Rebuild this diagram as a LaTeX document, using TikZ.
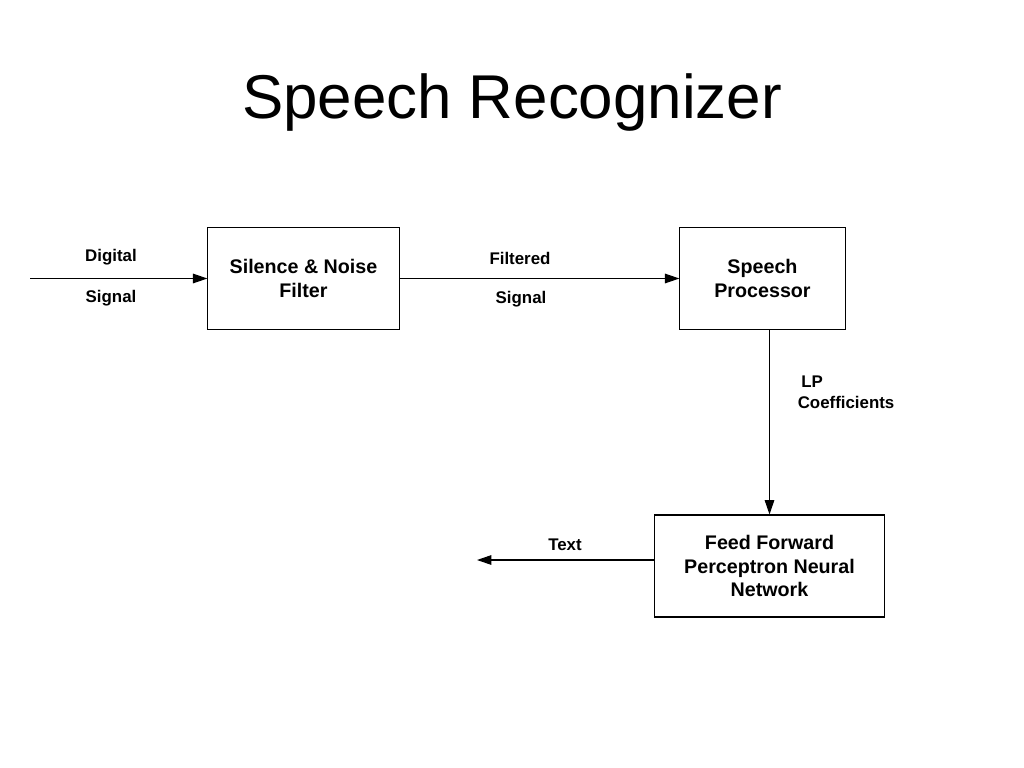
\documentclass[tikz,border=0pt]{standalone}
\usepackage{fontspec}
\setmainfont{Liberation Sans}
\usepackage{tikz}
\usetikzlibrary{arrows.meta,positioning,calc}
\tikzstyle{arrow} = [line width=0.75pt,-{Triangle[length=0.36cm,width=0.24cm]}]
\tikzstyle{blockbox} = [rectangle, draw=black, line width=0.75pt, align=center, font=\fontsize{14}{17}\selectfont\bfseries, inner sep=0pt]
\tikzstyle{lbl} = [font=\fontsize{12}{14.4}\selectfont\bfseries, inner sep=0pt]

\begin{document}
\begin{tikzpicture}[x=0.025cm,y=-0.025cm]
\useasboundingbox (0,0) rectangle (1024,768);

% Title
\node[anchor=base, font=\fontsize{44}{53}\selectfont] (title) at (512,119) {Speech Recognizer};

% Blocks
\node[blockbox, minimum width=4.78cm, minimum height=2.53cm] (filter) at (303.5,278.5) {Silence \& Noise\\Filter};
\node[blockbox, minimum width=4.13cm, minimum height=2.53cm] (proc) at (762.5,278.5) {Speech\\Processor};
\node[blockbox, minimum width=5.73cm, minimum height=2.55cm] (nn) at (769.5,566) {Feed Forward\\Perceptron Neural\\Network};

% Free ends
\coordinate (in) at (30,278.5);
\coordinate (out) at (477,560);

% Connectors
\draw[arrow] (in) -- (filter.west);
\draw[arrow] (filter.east) -- (proc.west);
\draw[arrow] (nn.north |- proc.south) -- (nn.north);
\draw[arrow] (nn.west |- out) -- (out);

% Labels
\node[lbl] (digital) at (111,257) {Digital};
\node[lbl] (signalA) at (111,298) {Signal};
\node[lbl] (filtered) at (520,258) {Filtered};
\node[lbl] (signalB) at (521,299) {Signal};
\node[lbl, anchor=west] (lp) at (801,382) {LP};
\node[lbl, anchor=west] (coeff) at (797.5,402) {Coefficients};
\node[lbl] (text) at (565,545) {Text};
\end{tikzpicture}
\end{document}
